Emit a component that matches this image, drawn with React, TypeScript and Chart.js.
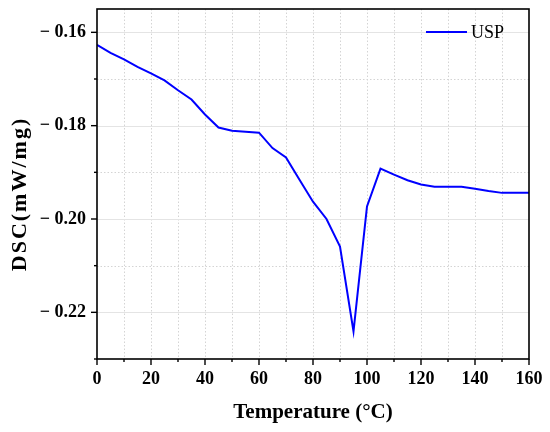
import React, { useEffect, useRef } from 'react';
import { Chart, registerables } from 'chart.js';

Chart.register(...registerables);

// DSC curve, one reading every 5 °C
const temperatures = [
  0, 5, 10, 15, 20, 25, 30, 35, 40, 45, 50, 55, 60, 65, 70, 75, 80,
  85, 90, 95, 100, 105, 110, 115, 120, 125, 130, 135, 140, 145, 150, 155, 160,
];
const uspValues = [
  -0.1627, -0.1644, -0.1658, -0.1674, -0.1688, -0.1703, -0.1724, -0.1744, -0.1776,
  -0.1804, -0.1811, -0.1813, -0.1815, -0.1848, -0.1868, -0.1916, -0.1963,
  -0.2, -0.2059, -0.2241, -0.1973, -0.1892, -0.1905, -0.1917, -0.1926,
  -0.1931, -0.1931, -0.1931, -0.1935, -0.194, -0.1944, -0.1944, -0.1944,
];
const seriesLabel = 'USP';
const xAxisTitle = 'Temperature (°C)';
const yAxisTitle = 'DSC(mW/mg)';

const SERIF = '"Liberation Serif", "Times New Roman", serif';

const isMajorY = (v: number) => Math.round(Math.abs(v) * 100) % 2 === 0;
const isMajorX = (v: number) => Math.round(v) % 20 === 0;

// grid, frame, tick marks, y title and the in-plot legend
const framePlugin = {
  id: 'frame',
  beforeDatasetsDraw(chart: any) {
    const { ctx, chartArea, scales } = chart;
    const { left, right, top, bottom } = chartArea;
    ctx.save();
    ctx.lineWidth = 1;
    scales.x.ticks.forEach((t: any) => {
      const px = Math.round(scales.x.getPixelForValue(t.value)) + 0.5;
      if (px <= left + 1 || px >= right - 1) return;
      ctx.strokeStyle = '#d4d4d4';
      ctx.setLineDash([1.5, 2]);
      ctx.beginPath();
      ctx.moveTo(px, top);
      ctx.lineTo(px, bottom);
      ctx.stroke();
    });
    scales.y.ticks.forEach((t: any) => {
      const py = Math.round(scales.y.getPixelForValue(t.value)) + 0.5;
      if (py <= top + 1 || py >= bottom - 1) return;
      if (isMajorY(t.value)) {
        ctx.strokeStyle = '#e4e4e4';
        ctx.setLineDash([]);
      } else {
        ctx.strokeStyle = '#d4d4d4';
        ctx.setLineDash([1.5, 2]);
      }
      ctx.beginPath();
      ctx.moveTo(left, py);
      ctx.lineTo(right, py);
      ctx.stroke();
    });
    ctx.restore();
  },
  afterDraw(chart: any) {
    const { ctx, chartArea, scales } = chart;
    const { left, right, top, bottom } = chartArea;
    ctx.save();
    ctx.setLineDash([]);
    ctx.strokeStyle = '#000';
    ctx.lineWidth = 1.6;
    ctx.strokeRect(left, top, right - left, bottom - top);

    ctx.lineWidth = 1.4;
    scales.x.ticks.forEach((t: any) => {
      const px = scales.x.getPixelForValue(t.value);
      const len = isMajorX(t.value) ? 6 : 3;
      ctx.beginPath();
      ctx.moveTo(px, bottom);
      ctx.lineTo(px, bottom + len);
      ctx.stroke();
    });
    scales.y.ticks.forEach((t: any) => {
      const py = scales.y.getPixelForValue(t.value);
      const len = isMajorY(t.value) ? 6 : 3;
      ctx.beginPath();
      ctx.moveTo(left, py);
      ctx.lineTo(left - len, py);
      ctx.stroke();
    });

    // y axis title, slightly letter-spaced like the original
    ctx.save();
    ctx.translate(20, (top + bottom) / 2 + 10);
    ctx.rotate(-Math.PI / 2);
    ctx.fillStyle = '#000';
    ctx.font = `bold 22px ${SERIF}`;
    (ctx as any).letterSpacing = '2px';
    ctx.textAlign = 'center';
    ctx.textBaseline = 'middle';
    ctx.fillText(yAxisTitle, 0, 0);
    (ctx as any).letterSpacing = '0px';
    ctx.restore();

    // legend inside the plot, top right
    const ds = chart.data.datasets[0];
    const ly = top + 23;
    const lx = right - 103;
    ctx.strokeStyle = ds.borderColor;
    ctx.lineWidth = 2;
    ctx.beginPath();
    ctx.moveTo(lx, ly);
    ctx.lineTo(lx + 41, ly);
    ctx.stroke();
    ctx.fillStyle = '#000';
    ctx.font = `18px ${SERIF}`;
    ctx.textBaseline = 'middle';
    ctx.textAlign = 'left';
    ctx.fillText(ds.label, lx + 45, ly + 1);
    ctx.restore();
  },
};

const DscChart = () => {
  const chartRef = useRef<HTMLCanvasElement>(null);

  useEffect(() => {
    document.body.style.margin = '0';
    if (!chartRef.current) return;

    const chartInstance = new Chart(chartRef.current, {
      type: 'line',
      data: {
        datasets: [
          {
            label: seriesLabel,
            data: temperatures.map((t, i) => ({ x: t, y: uspValues[i] })),
            borderColor: '#0000ff',
            borderWidth: 2,
            pointRadius: 0,
            tension: 0,
            fill: false,
          },
        ],
      },
      options: {
        animation: false,
        responsive: true,
        maintainAspectRatio: false,
        layout: { padding: { top: 9, right: 21, left: 0, bottom: 0 } },
        plugins: {
          legend: { display: false },
          tooltip: { enabled: false },
        },
        scales: {
          x: {
            type: 'linear',
            min: 0,
            max: 160,
            grid: { display: false, drawTicks: false },
            border: { display: false },
            ticks: {
              stepSize: 10,
              autoSkip: false,
              maxRotation: 0,
              padding: 10,
              color: '#000',
              font: { family: SERIF, size: 18, weight: 'bold' },
              callback: (v: any) => (isMajorX(Number(v)) ? String(v) : ''),
            },
            title: {
              display: true,
              text: xAxisTitle,
              color: '#000',
              font: { family: SERIF, size: 21, weight: 'bold' },
              padding: { top: 0, bottom: 7 },
            },
            afterFit: (scale: any) => {
              scale.height = 73;
              scale.paddingLeft = 0;
              scale.paddingRight = 0;
            },
          },
          y: {
            type: 'linear',
            min: -0.23,
            max: -0.155,
            grid: { display: false, drawTicks: false },
            border: { display: false },
            ticks: {
              stepSize: 0.01,
              includeBounds: false,
              autoSkip: false,
              padding: 11,
              color: '#000',
              font: { family: SERIF, size: 18, weight: 'bold' },
              callback: (v: any) =>
                isMajorY(Number(v)) ? '\u2212 ' + Math.abs(Number(v)).toFixed(2) : '',
            },
            title: { display: false },
            afterFit: (scale: any) => {
              scale.width = 97;
              scale.paddingTop = 0;
              scale.paddingBottom = 0;
            },
          },
        },
      },
      plugins: [framePlugin],
    });

    return () => {
      chartInstance.destroy();
    };
  }, []);

  return (
    <div style={{ width: 550, height: 432, position: 'relative' }}>
      <canvas ref={chartRef} />
    </div>
  );
};

export default function App() {
  return <DscChart />;
}
